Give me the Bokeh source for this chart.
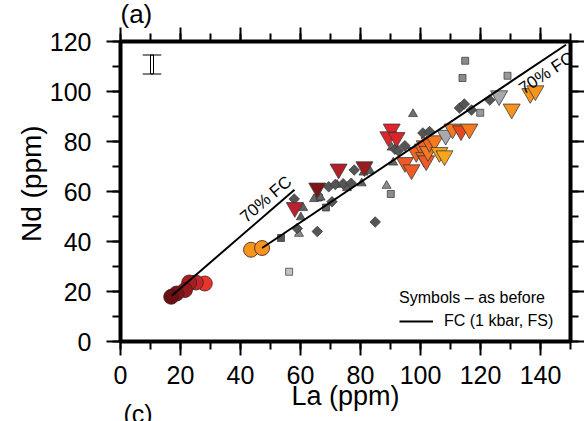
import numpy as np
from bokeh.plotting import figure
from bokeh.models import (Range1d, LinearAxis, SingleIntervalTicker, Label,
                          Legend, LegendItem, Title)
from bokeh.embed import file_html
from bokeh.resources import INLINE

FONT = "Liberation Sans"

# ---------------- data (La, Nd in ppm) ----------------
# large circles
circ_la = [28.1, 25.1, 22.9, 21.5, 18.7, 16.9, 43.5, 47.2]
circ_nd = [23.2, 23.6, 23.6, 20.6, 19.2, 17.9, 36.7, 37.4]
circ_col = ["#e8352b", "#c1262b", "#a81d22", "#951a1d", "#7d1316", "#6b0f12",
            "#f7941d", "#f7941d"]

# large inverted triangles
itri_la = [58.1, 65.6, 72.7, 81.3, 90.4, 89.3, 92.0, 94.8, 97.0, 98.6, 100.8,
           101.2, 101.9, 101.4, 102.5, 103.0, 104.7, 106.3, 108.0, 108.4,
           110.7, 113.5, 116.3, 126.2, 130.4, 136.6, 138.3]
itri_nd = [53.6, 61.4, 69.0, 69.9, 85.0, 81.9, 81.6, 71.6, 68.7, 75.6, 77.0,
           73.6, 72.3, 78.3, 76.0, 79.6, 80.3, 75.6, 74.3, 82.5,
           85.0, 84.3, 85.0, 98.3, 93.0, 99.2, 100.3]
itri_col = ["#be1e2d", "#7d1517", "#b31f29", "#981b1e", "#e2232a", "#e0252b",
            "#d9242a", "#f15a24", "#f15a24", "#f26522", "#f26522", "#f26522",
            "#f15a24", "#f26522", "#f47920", "#f26522", "#f47920", "#f9a11b",
            "#faa61a", "#a7a9ac", "#f47920", "#e8461f", "#f47920", "#a7a9ac",
            "#f7941d", "#f7941d", "#f7941d"]

# small grey diamonds
dia_la = [57.9, 58.9, 65.6, 69.4, 70.5, 71.6, 74.2, 76.9, 77.9, 84.9, 91.5,
          92.6, 94.8, 100.8, 103.0, 113.0, 114.6, 117.0, 123.1]
dia_nd = [57.0, 45.2, 44.0, 61.9, 55.9, 62.8, 63.1, 63.3, 68.6, 47.8, 76.9,
          76.3, 78.3, 83.4, 84.0, 93.4, 95.0, 92.6, 96.6]

# small grey triangles
tri_la = [59.5, 60.1, 60.9, 64.5, 66.7, 72.2, 75.5, 80.4, 81.0, 83.2, 88.7,
          90.4, 90.9, 97.5]
tri_nd = [43.1, 49.7, 53.4, 57.0, 57.6, 62.7, 61.4, 63.3, 67.6, 68.2, 62.3,
          77.6, 71.6, 91.0]
tri_col = ["#8c8c8c", "#5f5f5f", "#5f5f5f", "#666666", "#666666", "#5f5f5f",
           "#5f5f5f", "#5f5f5f", "#5f5f5f", "#5f5f5f", "#8c8c8c", "#666666",
           "#666666", "#6e6e6e"]

# small grey squares
sq_la = [53.5, 56.2, 66.1, 68.5, 90.1, 114.9, 114.0, 129.0, 119.9]
sq_nd = [41.4, 27.9, 57.6, 53.6, 59.0, 112.3, 105.4, 106.3, 91.5]
sq_col = ["#555555", "#c2c2c2", "#555555", "#666666", "#8c8c8c", "#8a8a8a",
          "#8a8a8a", "#999999", "#999999"]

# fractional crystallisation model curves
fc1_la = [17.1, 58.0]
fc1_nd = [18.3, 60.7]
fc2_la = [47.2, 148.5]
fc2_nd = [37.4, 118.7]

# analytical error bar
err_la = [10.5]
err_lo = [107.0]
err_hi = [114.6]
err_cap = 3.1

# ---------------- figure ----------------
p = figure(width=584, height=421, x_range=Range1d(0, 150), y_range=Range1d(0, 120),
           output_backend="svg", toolbar_location=None,
           min_border_left=120, min_border_right=10, min_border_top=41,
           min_border_bottom=80)
p.background_fill_color = "white"
p.border_fill_color = "white"
p.outline_line_color = "black"
p.outline_line_width = 4
p.grid.visible = False

# panel letter (a) as the plot title
p.title.text = "(a)"
p.title.align = "left"
p.title.vertical_align = "top"
p.title.offset = 0
p.title.standoff = -6
p.title.text_font = FONT
p.title.text_font_size = "26px"
p.title.text_font_style = "normal"
p.title.text_color = "black"

xa = p.below[0]
ya = p.left[0]

xt = SingleIntervalTicker(interval=20, num_minor_ticks=2)
yt = SingleIntervalTicker(interval=20, num_minor_ticks=2)
xa.ticker = xt
ya.ticker = yt

top = LinearAxis(ticker=xt)
right = LinearAxis(ticker=yt)
p.add_layout(top, "above")
p.add_layout(right, "right")

for ax in [xa, ya, top, right]:
    ax.axis_line_color = None
    ax.major_tick_line_color = "black"
    ax.minor_tick_line_color = "black"
    ax.major_tick_line_width = 2
    ax.minor_tick_line_width = 2
    ax.major_tick_in = 0
    ax.minor_tick_in = 0
    ax.major_tick_out = 14
    ax.minor_tick_out = 8
    ax.major_label_text_font = FONT
    ax.major_label_text_color = "black"
    ax.axis_label_text_font = FONT
    ax.axis_label_text_font_style = "normal"
    ax.axis_label_text_color = "black"

for ax in [top, right]:
    ax.major_label_text_font_size = "2px"
    ax.major_label_text_color = None
    ax.major_label_standoff = 0

xa.major_label_text_font_size = "25px"
xa.major_label_standoff = 10
xa.axis_label = "La (ppm)"
xa.axis_label_text_font_size = "27px"
xa.axis_label_standoff = -6

ya.major_label_text_font_size = "25px"
ya.major_label_standoff = 15
ya.axis_label = "\u00a0\u00a0Nd (ppm)"
ya.axis_label_text_font_size = "28px"
ya.axis_label_standoff = 0

# panel letter (c) of the next panel, cut by the bottom edge
p.add_layout(Title(text="(c)", align="left", vertical_align="top", offset=3,
                   standoff=-27, text_font=FONT, text_font_size="25px",
                   text_font_style="normal", text_color="black"), "below")

# ---------------- marks ----------------
p.scatter(sq_la, sq_nd, marker="square", size=7, fill_color=sq_col,
          line_color="#333333", line_width=0.7)
p.scatter(tri_la, tri_nd, marker="triangle", size=9, fill_color=tri_col,
          line_color="#333333", line_width=0.7)
p.scatter(dia_la, dia_nd, marker="square", angle=np.pi / 4, size=7.5,
          fill_color="#555555", line_color="#333333", line_width=0.7)
p.scatter(itri_la, itri_nd, marker="inverted_triangle", size=17,
          fill_color=itri_col, line_color="#3a3a3a", line_width=0.8)
p.scatter(circ_la, circ_nd, marker="circle", size=15, fill_color=circ_col,
          line_color="#3a2020", line_width=0.8)

l1 = p.line(fc1_la, fc1_nd, line_color="black", line_width=2)
p.line(fc2_la, fc2_nd, line_color="black", line_width=2)

# error bar
p.rect(x=err_la, y=[(a + b) / 2 for a, b in zip(err_lo, err_hi)], width=3,
       width_units="screen", height=[b - a for a, b in zip(err_lo, err_hi)],
       fill_color="white", line_color="black", line_width=1)
p.segment(x0=[err_la[0] - err_cap] * 2, x1=[err_la[0] + err_cap] * 2,
          y0=[err_lo[0], err_hi[0]], y1=[err_lo[0], err_hi[0]],
          line_color="black", line_width=1.2)

# curve labels
ang1 = np.arctan2(2.5 * (fc1_nd[1] - fc1_nd[0]), 3.025 * (fc1_la[1] - fc1_la[0]))
ang2 = np.arctan2(2.5 * (fc2_nd[1] - fc2_nd[0]), 3.025 * (fc2_la[1] - fc2_la[0]))
p.add_layout(Label(x=58.3, y=62.0, text="70% FC", angle=ang1, text_align="right",
                   text_baseline="bottom", text_font=FONT, text_font_size="17px",
                   text_color="black"))
p.add_layout(Label(x=148.7, y=117.3, text="70% FC", angle=ang2, text_align="right",
                   text_baseline="top", text_font=FONT, text_font_size="17px",
                   text_color="black"))

# legend
leg = Legend(items=[LegendItem(label="FC (1 kbar, FS)", renderers=[l1])],
             title="Symbols \u2013 as before", location=(279, 11))
leg.title_text_font = FONT
leg.title_text_font_size = "16px"
leg.title_text_font_style = "normal"
leg.title_text_color = "black"
leg.title_standoff = 5
leg.label_text_font = FONT
leg.label_text_font_size = "16px"
leg.label_text_color = "black"
leg.label_standoff = 11
leg.glyph_width = 34
leg.glyph_height = 16
leg.padding = 4
leg.margin = 0
leg.spacing = 0
leg.border_line_color = None
leg.background_fill_alpha = 0
p.add_layout(leg)

open("out.html", "w").write(file_html(p, INLINE))
